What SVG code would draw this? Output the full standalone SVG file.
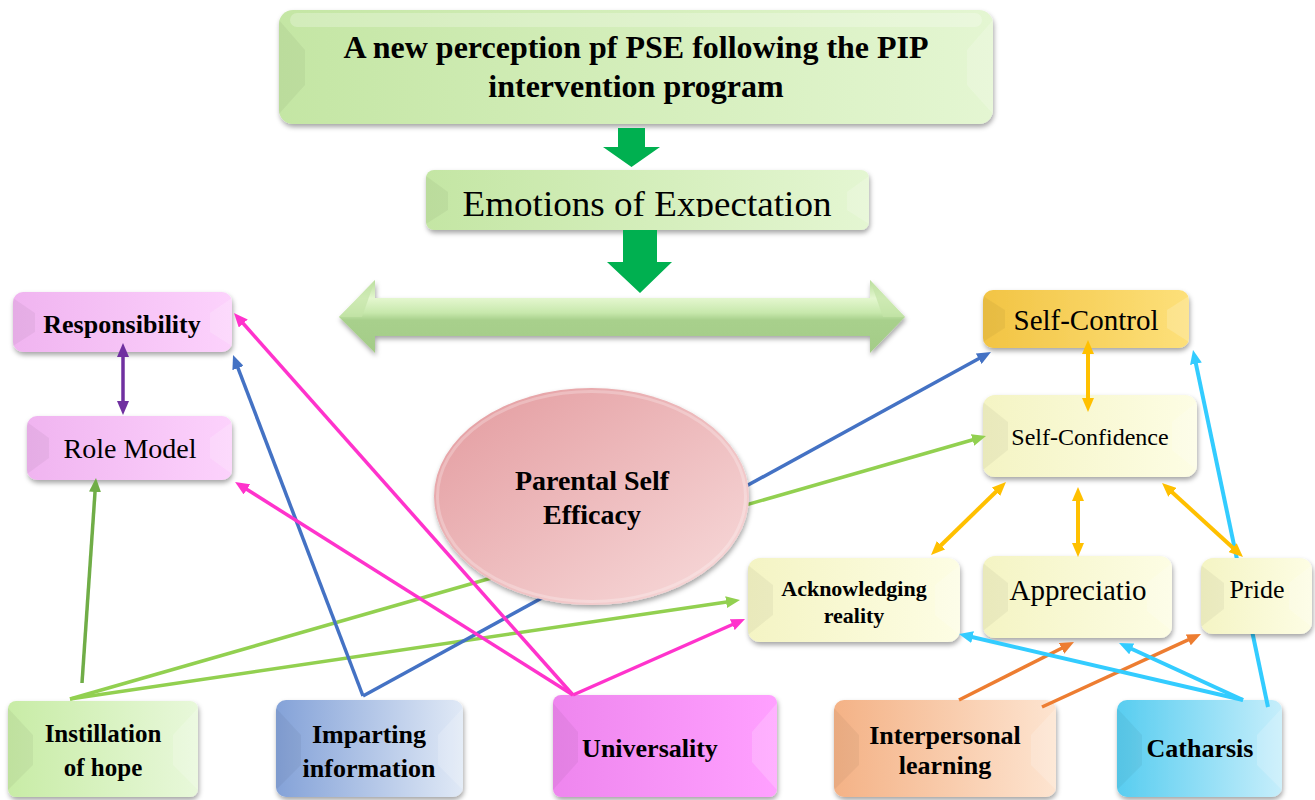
<svg xmlns="http://www.w3.org/2000/svg" width="1315" height="800" viewBox="0 0 1315 800">
<style>
text{font-family:"Liberation Serif","Times New Roman",serif;fill:#000;text-anchor:middle}
.b{font-weight:bold}
.ln{fill:none;stroke-linecap:butt}
.bl{fill:#000;opacity:.045}
.br{fill:#fff;opacity:.18}
.sh{filter:url(#shadow)}
</style>
<defs>
<filter id="shadow" x="-10%" y="-10%" width="120%" height="130%">
<feDropShadow dx="1" dy="3" stdDeviation="2.5" flood-color="#000" flood-opacity="0.35"/>
</filter>
<linearGradient id="gTitle" x1="0" y1="0" x2="1" y2="0"><stop offset="0" stop-color="#c4e6a4"/><stop offset="1" stop-color="#e4f6d2"/></linearGradient>
<linearGradient id="gPink" x1="0" y1="0" x2="1" y2="0"><stop offset="0" stop-color="#f0b4f0"/><stop offset="1" stop-color="#fcd2fc"/></linearGradient>
<linearGradient id="gGold" x1="0" y1="0" x2="1" y2="0"><stop offset="0" stop-color="#f2c444"/><stop offset="1" stop-color="#fde07a"/></linearGradient>
<linearGradient id="gCream" x1="0" y1="0" x2="1" y2="0"><stop offset="0" stop-color="#f4f4c4"/><stop offset="1" stop-color="#fdfde4"/></linearGradient>
<linearGradient id="gInst" x1="0" y1="0" x2="1" y2="0"><stop offset="0" stop-color="#c8eca6"/><stop offset="1" stop-color="#e8f8da"/></linearGradient>
<linearGradient id="gImp" x1="0" y1="0" x2="1" y2="0"><stop offset="0" stop-color="#84a2d8"/><stop offset="1" stop-color="#e0e9f6"/></linearGradient>
<linearGradient id="gUni" x1="0" y1="0" x2="1" y2="0"><stop offset="0" stop-color="#ee86ee"/><stop offset="1" stop-color="#ffa0ff"/></linearGradient>
<linearGradient id="gInt" x1="0" y1="0" x2="1" y2="0"><stop offset="0" stop-color="#f4b286"/><stop offset="1" stop-color="#fde4d0"/></linearGradient>
<linearGradient id="gCat" x1="0" y1="0" x2="1" y2="0"><stop offset="0" stop-color="#58cdf0"/><stop offset="1" stop-color="#c6eefb"/></linearGradient>
<linearGradient id="gEll" x1="0" y1="0" x2="1" y2="1"><stop offset="0" stop-color="#e39a9e"/><stop offset="1" stop-color="#f8dcdc"/></linearGradient>
<linearGradient id="gDbl" x1="0" y1="0" x2="0" y2="1"><stop offset="0" stop-color="#b6dc9a"/><stop offset="0.25" stop-color="#e4f7cf"/><stop offset="0.45" stop-color="#c7e8ac"/><stop offset="0.55" stop-color="#a8d08c"/><stop offset="1" stop-color="#a4cc88"/></linearGradient>
<clipPath id="clipEmo"><rect x="426" y="170" width="443" height="47"/></clipPath>
<marker id="mPurple" viewBox="0 0 14 12" markerWidth="14" markerHeight="12" refX="4" refY="6" orient="auto-start-reverse" markerUnits="userSpaceOnUse"><path d="M0,0 L14,6 L0,12 z" fill="#7030a0"/></marker>
<marker id="mGreen" viewBox="0 0 14 12" markerWidth="14" markerHeight="12" refX="4" refY="6" orient="auto-start-reverse" markerUnits="userSpaceOnUse"><path d="M0,0 L14,6 L0,12 z" fill="#70ad47"/></marker>
<marker id="mLGreen" viewBox="0 0 14 12" markerWidth="14" markerHeight="12" refX="4" refY="6" orient="auto-start-reverse" markerUnits="userSpaceOnUse"><path d="M0,0 L14,6 L0,12 z" fill="#92d050"/></marker>
<marker id="mBlue" viewBox="0 0 14 12" markerWidth="14" markerHeight="12" refX="4" refY="6" orient="auto-start-reverse" markerUnits="userSpaceOnUse"><path d="M0,0 L14,6 L0,12 z" fill="#4472c4"/></marker>
<marker id="mPink" viewBox="0 0 14 12" markerWidth="14" markerHeight="12" refX="4" refY="6" orient="auto-start-reverse" markerUnits="userSpaceOnUse"><path d="M0,0 L14,6 L0,12 z" fill="#ff33cc"/></marker>
<marker id="mOrange" viewBox="0 0 14 12" markerWidth="14" markerHeight="12" refX="4" refY="6" orient="auto-start-reverse" markerUnits="userSpaceOnUse"><path d="M0,0 L14,6 L0,12 z" fill="#ed7d31"/></marker>
<marker id="mCyan" viewBox="0 0 14 12" markerWidth="14" markerHeight="12" refX="4" refY="6" orient="auto-start-reverse" markerUnits="userSpaceOnUse"><path d="M0,0 L14,6 L0,12 z" fill="#33ccff"/></marker>
<marker id="mGold" viewBox="0 0 14 12" markerWidth="14" markerHeight="12" refX="4" refY="6" orient="auto-start-reverse" markerUnits="userSpaceOnUse"><path d="M0,0 L14,6 L0,12 z" fill="#ffc000"/></marker>
</defs>

<g id="title">
<rect class="sh" x="279" y="10" width="714" height="114" rx="14" fill="url(#gTitle)"/>
<polygon class="bl" points="279,20 305,50 305,85 279,114"/>
<polygon class="br" points="993,20 967,50 967,85 993,114"/>
<rect x="290" y="13" width="692" height="14" rx="7" fill="#fff" opacity="0.25"/>
<text class="b" x="636" y="58" font-size="32">A new perception pf PSE following the PIP</text>
<text class="b" x="636" y="97" font-size="32">intervention program</text>
</g>

<g id="arrow-down-1">
<polygon points="618,128 645,128 645,147 660,147 631.5,167 603,147 618,147" fill="#00b050"/>
</g>

<g id="emotions">
<rect class="sh" x="426" y="170" width="443" height="60" rx="8" fill="url(#gTitle)"/>
<polygon class="bl" points="426,176 448,192 448,210 426,224"/>
<polygon class="br" points="869,176 847,192 847,210 869,224"/>
<text x="647" y="216" font-size="36" clip-path="url(#clipEmo)" textLength="369" lengthAdjust="spacingAndGlyphs">Emotions of Expectation</text>
</g>

<g id="arrow-down-2">
<polygon points="623,230 657,230 657,262 672,262 640,293 607,262 623,262" fill="#00b050"/>
</g>

<g id="double-arrow">
<polygon class="sh" points="339,317 375,280 375,298 870,298 870,280 905,317 870,353 870,336 375,336 375,353" fill="url(#gDbl)"/>
<polygon points="339,317 375,280 362,317" fill="#c4e4a8" opacity="0.7"/>
<polygon points="905,317 870,280 883,317" fill="#c4e4a8" opacity="0.7"/>
</g>

<g id="responsibility">
<rect class="sh" x="13" y="292" width="219" height="60" rx="10" fill="url(#gPink)"/>
<polygon class="bl" points="13,298 35,313 35,332 13,346"/>
<polygon class="br" points="232,298 210,313 210,332 232,346"/>
<text class="b" x="122" y="333" font-size="26">Responsibility</text>
</g>

<g id="role-model">
<rect class="sh" x="27" y="416" width="205" height="64" rx="10" fill="url(#gPink)"/>
<polygon class="bl" points="27,422 49,438 49,458 27,474"/>
<polygon class="br" points="232,422 210,438 210,458 232,474"/>
<text x="130" y="458" font-size="28">Role Model</text>
</g>

<g id="self-control">
<rect class="sh" x="983" y="290" width="206" height="58" rx="10" fill="url(#gGold)"/>
<polygon class="bl" points="983,296 1005,310 1005,328 983,342"/>
<polygon class="br" points="1189,296 1167,310 1167,328 1189,342"/>
<text x="1086" y="330" font-size="29">Self-Control</text>
</g>

<g id="self-confidence">
<rect class="sh" x="983" y="395" width="214" height="82" rx="12" fill="url(#gCream)"/>
<polygon class="bl" points="983,402 1008,422 1008,450 983,470"/>
<polygon class="br" points="1197,402 1172,422 1172,450 1197,470"/>
<text x="1090" y="445" font-size="24">Self-Confidence</text>
</g>

<g id="acknowledging-reality">
<rect class="sh" x="748" y="558" width="212" height="84" rx="12" fill="url(#gCream)"/>
<polygon class="bl" points="748,565 773,585 773,615 748,635"/>
<polygon class="br" points="960,565 935,585 935,615 960,635"/>
<text class="b" x="854" y="596" font-size="22">Acknowledging</text>
<text class="b" x="854" y="623" font-size="22">reality</text>
</g>

<g id="appreciation">
<rect class="sh" x="983" y="556" width="189" height="82" rx="12" fill="url(#gCream)"/>
<polygon class="bl" points="983,563 1008,583 1008,611 983,631"/>
<polygon class="br" points="1172,563 1147,583 1147,611 1172,631"/>
<text x="1078" y="600" font-size="29">Appreciatio</text>
</g>

<g id="instillation-of-hope">
<rect class="sh" x="8" y="701" width="190" height="96" rx="8" fill="url(#gInst)"/>
<polygon class="bl" points="8,708 33,735 33,765 8,790"/>
<polygon class="br" points="198,708 173,735 173,765 198,790"/>
<text class="b" x="103" y="742" font-size="25">Instillation</text>
<text class="b" x="103" y="776" font-size="25">of hope</text>
</g>

<g id="imparting-information">
<rect class="sh" x="276" y="700" width="187" height="97" rx="10" fill="url(#gImp)"/>
<polygon class="bl" points="276,708 301,735 301,765 276,790"/>
<polygon class="br" points="463,708 438,735 438,765 463,790"/>
<text class="b" x="369" y="743" font-size="26">Imparting</text>
<text class="b" x="369" y="777" font-size="26">information</text>
</g>

<g id="universality">
<rect class="sh" x="553" y="695" width="224" height="102" rx="8" fill="url(#gUni)"/>
<polygon class="bl" points="553,703 578,732 578,762 553,790"/>
<polygon class="br" points="777,703 752,732 752,762 777,790"/>
<text class="b" x="650" y="757" font-size="26">Universality</text>
</g>

<g id="interpersonal-learning">
<rect class="sh" x="834" y="700" width="222" height="97" rx="10" fill="url(#gInt)"/>
<polygon class="bl" points="834,708 859,735 859,765 834,790"/>
<polygon class="br" points="1056,708 1031,735 1031,765 1056,790"/>
<text class="b" x="945" y="744" font-size="26">Interpersonal</text>
<text class="b" x="945" y="774" font-size="26">learning</text>
</g>

<g id="catharsis">
<rect class="sh" x="1117" y="700" width="165" height="97" rx="10" fill="url(#gCat)"/>
<polygon class="bl" points="1117,708 1142,735 1142,765 1117,790"/>
<polygon class="br" points="1282,708 1257,735 1257,765 1282,790"/>
<text class="b" x="1200" y="757" font-size="26">Catharsis</text>
</g>

<g id="connectors">
<line class="ln" x1="123" y1="353" x2="123" y2="405" stroke="#7030a0" stroke-width="3.5" marker-start="url(#mPurple)" marker-end="url(#mPurple)"/>
<line class="ln" x1="82" y1="683" x2="95.3" y2="488" stroke="#70ad47" stroke-width="3.5" marker-end="url(#mGreen)"/>
<line class="ln" x1="70" y1="699" x2="976.4" y2="438.8" stroke="#92d050" stroke-width="3.5" marker-end="url(#mLGreen)"/>
<line class="ln" x1="70" y1="699" x2="730.1" y2="601.5" stroke="#92d050" stroke-width="3.5" marker-end="url(#mLGreen)"/>
<line class="ln" x1="363" y1="696" x2="236.6" y2="364.3" stroke="#4472c4" stroke-width="3.5" marker-end="url(#mBlue)"/>
<line class="ln" x1="363" y1="696" x2="982.2" y2="356.8" stroke="#4472c4" stroke-width="3.5" marker-end="url(#mBlue)"/>
<line class="ln" x1="573" y1="695" x2="240.6" y2="320.5" stroke="#ff33cc" stroke-width="3.5" marker-end="url(#mPink)"/>
<line class="ln" x1="573" y1="695" x2="243.5" y2="487.3" stroke="#ff33cc" stroke-width="3.5" marker-end="url(#mPink)"/>
<line class="ln" x1="573" y1="695" x2="735.9" y2="623" stroke="#ff33cc" stroke-width="3.5" marker-end="url(#mPink)"/>
<line class="ln" x1="959" y1="700" x2="1065.1" y2="646.5" stroke="#ed7d31" stroke-width="3.5" marker-end="url(#mOrange)"/>
<line class="ln" x1="1042" y1="707" x2="1191.9" y2="638.2" stroke="#ed7d31" stroke-width="3.5" marker-end="url(#mOrange)"/>
<line class="ln" x1="1243" y1="700" x2="968.7" y2="636.3" stroke="#33ccff" stroke-width="4" marker-end="url(#mCyan)"/>
<line class="ln" x1="1243" y1="700" x2="1128.1" y2="647.2" stroke="#33ccff" stroke-width="4" marker-end="url(#mCyan)"/>
<line class="ln" x1="1268" y1="707" x2="1195.1" y2="359.8" stroke="#33ccff" stroke-width="4" marker-end="url(#mCyan)"/>
<line class="ln" x1="1088" y1="350" x2="1088" y2="402" stroke="#ffc000" stroke-width="4" marker-start="url(#mGold)" marker-end="url(#mGold)"/>
<line class="ln" x1="1078" y1="497" x2="1078" y2="547" stroke="#ffc000" stroke-width="4" marker-start="url(#mGold)" marker-end="url(#mGold)"/>
<line class="ln" x1="998.8" y1="489" x2="938.2" y2="548" stroke="#ffc000" stroke-width="4" marker-start="url(#mGold)" marker-end="url(#mGold)"/>
<line class="ln" x1="1169.4" y1="489.7" x2="1235.6" y2="550.3" stroke="#ffc000" stroke-width="4" marker-start="url(#mGold)" marker-end="url(#mGold)"/>
</g>

<g id="parental-self-efficacy">
<ellipse class="sh" cx="591.5" cy="496.5" rx="157.5" ry="108.5" fill="url(#gEll)"/>
<ellipse cx="591.5" cy="496.5" rx="154" ry="105" fill="none" stroke="#fff" stroke-width="3" opacity="0.25"/>
<text class="b" x="592" y="490" font-size="28">Parental Self</text>
<text class="b" x="592" y="524" font-size="28">Efficacy</text>
</g>

<g id="pride">
<rect class="sh" x="1201" y="558" width="111" height="76" rx="12" fill="url(#gCream)"/>
<polygon class="bl" points="1201,565 1224,583 1224,609 1201,627"/>
<polygon class="br" points="1312,565 1289,583 1289,609 1312,627"/>
<text x="1257" y="598" font-size="26">Pride</text>
</g>
</svg>
